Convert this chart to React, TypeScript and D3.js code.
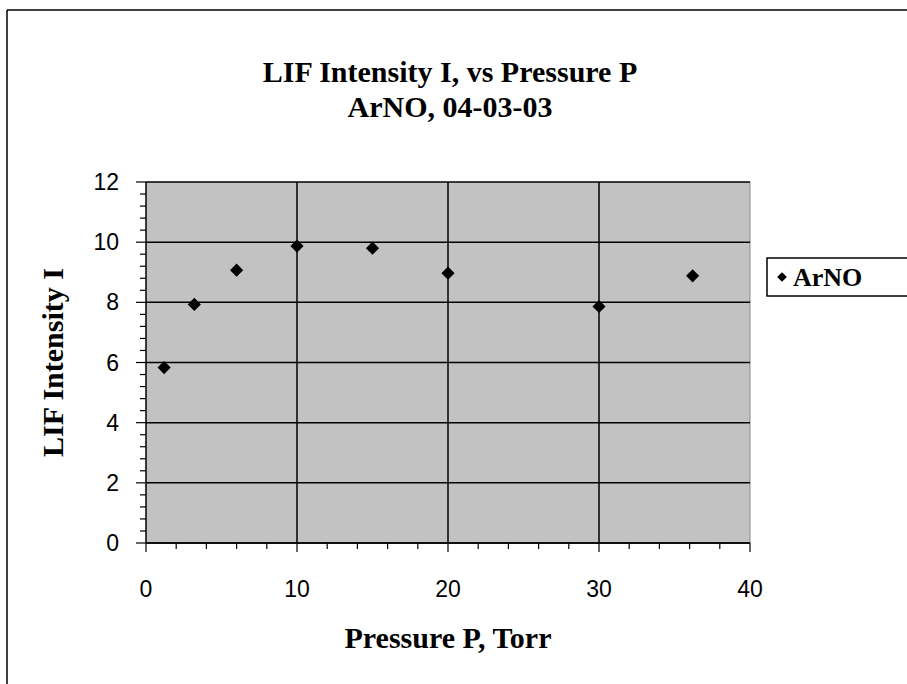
import React from "react";
import * as d3 from "d3";

const pressure = [1.2, 3.2, 6.0, 10.0, 15.0, 20.0, 30.0, 36.2];
const intensity = [5.83, 7.93, 9.07, 9.87, 9.8, 8.97, 7.86, 8.88];
const xTicks = [0, 10, 20, 30, 40];
const yTicks = [0, 2, 4, 6, 8, 10, 12];
const titleLines = ["LIF Intensity I, vs Pressure P", "ArNO, 04-03-03"];
const xTitle = "Pressure P, Torr";
const yTitle = "LIF Intensity I";
const seriesName = "ArNO";

const W = 907, H = 684;
const L = 146, R = 750, T = 182, B = 543;

export default function App() {
  const x = d3.scaleLinear().domain([0, 40]).range([L, R]);
  const y = d3.scaleLinear().domain([0, 12]).range([B, T]);
  const xMinor = d3.range(0, 40.001, 2);
  const yMinor = d3.range(0, 12.001, 0.4);
  const diamond = d3.symbol().type(d3.symbolDiamond2).size(110)();
  const legDiamond = d3.symbol().type(d3.symbolDiamond2).size(60)();
  const serif = "'Liberation Serif', 'Times New Roman', serif";
  const sans = "'Liberation Sans', Arial, sans-serif";
  return (
    <svg width={W} height={H} style={{ position: "absolute", left: 0, top: 0, background: "#fff" }}>
      <line x1={7} y1={10} x2={W} y2={10} stroke="#000" strokeWidth={1.5} />
      <line x1={7} y1={10} x2={7} y2={H} stroke="#000" strokeWidth={1.5} />
      <g fontFamily={serif} fontWeight="bold" fontSize={30} textAnchor="middle">
        <text x={450} y={82}>{titleLines[0]}</text>
        <text x={450} y={117}>{titleLines[1]}</text>
      </g>
      <rect x={L} y={T} width={R - L} height={B - T} fill="#c2c2c2" />
      <line x1={R} y1={T} x2={R} y2={B} stroke="#888" strokeWidth={1} />
      {yTicks.map((t) => (
        <line key={"gy" + t} x1={L} x2={R} y1={y(t)} y2={y(t)} stroke="#000" strokeWidth={1.5} />
      ))}
      {xTicks.map((t) => (
        t > 0 && t < 40 ? <line key={"gx" + t} x1={x(t)} x2={x(t)} y1={T} y2={B} stroke="#000" strokeWidth={1.5} /> : null
      ))}
      <line x1={L} x2={L} y1={T} y2={B} stroke="#000" strokeWidth={1.5} />
      <line x1={L} x2={R} y1={B} y2={B} stroke="#000" strokeWidth={1.5} />
      {yMinor.map((t, i) => (
        <line key={"my" + i} x1={L - (i % 5 === 0 ? 10 : 6)} x2={L} y1={y(t)} y2={y(t)} stroke="#000" strokeWidth={1.2} />
      ))}
      {xMinor.map((t, i) => (
        <line key={"mx" + i} x1={x(t)} x2={x(t)} y1={B} y2={B + (i % 5 === 0 ? 9 : 6)} stroke="#000" strokeWidth={1.2} />
      ))}
      <g fontFamily={sans} fontSize={23} fill="#000">
        {yTicks.map((t) => (
          <text key={"ly" + t} x={119} y={y(t) + 8} textAnchor="end">{t}</text>
        ))}
        {xTicks.map((t) => (
          <text key={"lx" + t} x={x(t)} y={597} textAnchor="middle">{t}</text>
        ))}
      </g>
      {pressure.map((p, i) => (
        <path key={"pt" + i} d={diamond} transform={`translate(${x(p)},${y(intensity[i])})`} fill="#000" />
      ))}
      <g fontFamily={serif} fontWeight="bold" fontSize={30} textAnchor="middle">
        <text x={448} y={648}>{xTitle}</text>
        <text transform={`translate(63,${(T + B) / 2}) rotate(-90)`}>{yTitle}</text>
      </g>
      <rect x={767} y={258} width={150} height={38} fill="#fff" stroke="#000" strokeWidth={1.5} />
      <path d={legDiamond} transform="translate(782,277)" fill="#000" />
      <text x={793} y={286} fontFamily={serif} fontWeight="bold" fontSize={26}>{seriesName}</text>
    </svg>
  );
}
